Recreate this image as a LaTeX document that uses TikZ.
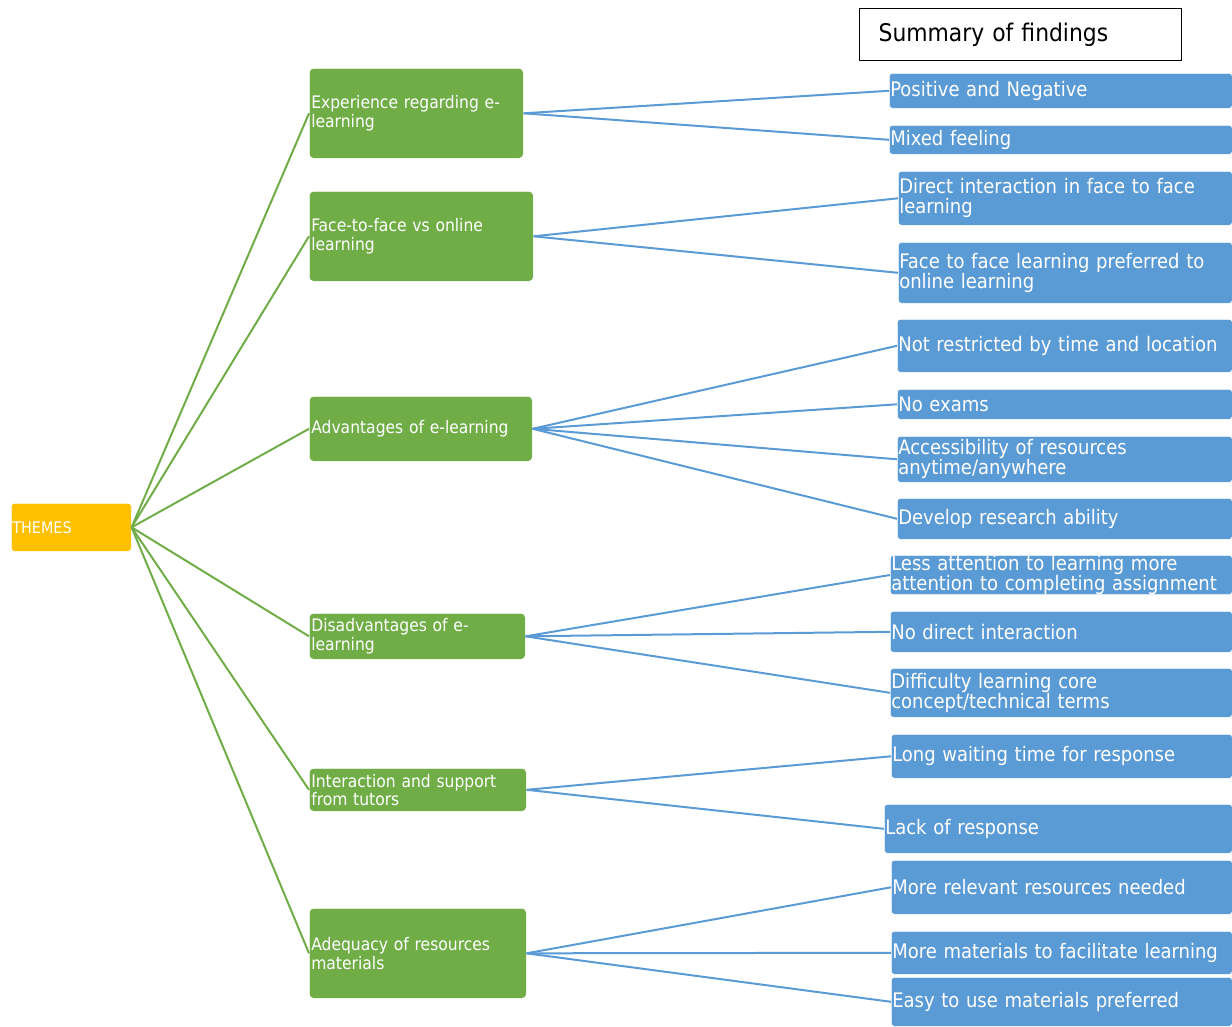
\documentclass[tikz,border=0pt]{standalone}
\usepackage{fontspec}
\setmainfont{DejaVu Sans Condensed}
\usetikzlibrary{positioning}
\definecolor{themeyellow}{HTML}{FFC000}
\definecolor{topicgreen}{HTML}{70AD47}
\definecolor{findblue}{HTML}{5B9BD5}

\tikzset{
  theme/.style={fill=themeyellow, draw=white, line width=0.6pt, rounded corners=3pt, text=white,
    anchor=north west, align=left, inner xsep=1pt, inner ysep=0pt,
    font=\fontsize{16}{18}\selectfont},
  topic/.style={fill=topicgreen, draw=white, line width=0.6pt, rounded corners=4pt, text=white,
    anchor=north west, align=left, inner xsep=2pt, inner ysep=0pt,
    font=\fontsize{17.3}{18.5}\selectfont},
  finding/.style={fill=findblue, draw=white, line width=0.6pt, rounded corners=3pt, text=white,
    anchor=north west, align=left, inner xsep=1pt, inner ysep=0pt,
    font=\fontsize{20}{20}\selectfont},
  themeline/.style={draw=topicgreen, line width=2pt},
  findline/.style={draw=findblue, line width=2pt}
}

\begin{document}
\begin{tikzpicture}[x=1pt, y=-1pt]
  \useasboundingbox (0,0) rectangle (1232,1026);

  % title box
  \node[draw=black, line width=1.3pt, anchor=north west, minimum width=322pt, minimum height=52pt,
    text width=284pt, inner xsep=19pt, align=left, font=\fontsize{24.3}{28}\selectfont] (summary) at (859,8) {Summary of findings};

  % root
  \node[theme, text width=118pt, minimum height=48pt] (themes) at (11,503) {THEMES};

  % themes
  \node[topic, text width=210pt, minimum height=90pt] (exp) at (309,68) {Experience regarding e-\\learning};
  \node[topic, text width=220pt, minimum height=90pt] (ftf) at (309,191) {Face-to-face vs online\\learning};
  \node[topic, text width=219pt, minimum height=65pt] (adv) at (309,396) {Advantages of e-learning};
  \node[topic, text width=212pt, minimum height=46pt] (dis) at (309,613) {Disadvantages of e-\\learning};
  \node[topic, text width=213pt, minimum height=43pt] (inter) at (309,768) {Interaction and support\\from tutors};
  \node[topic, text width=213pt, minimum height=90pt] (adeq) at (309,908) {Adequacy of resources\\materials};

  % findings
  \node[finding, text width=341pt, minimum height=35pt] (pos) at (889,73) {Positive and Negative};
  \node[finding, text width=341pt, minimum height=29pt] (mix) at (889,125) {Mixed feeling};
  \node[finding, text width=332pt, minimum height=54pt] (direct) at (898,171) {Direct interaction in face to face\\learning};
  \node[finding, text width=332pt, minimum height=61pt] (pref) at (898,242) {Face to face learning preferred to\\online learning};
  \node[finding, text width=333pt, minimum height=53pt] (notres) at (897,319) {Not restricted by time and location};
  \node[finding, text width=333pt, minimum height=30pt] (noexam) at (897,389) {No exams};
  \node[finding, text width=333pt, minimum height=46pt] (access) at (897,436) {Accessibility of resources\\anytime/anywhere};
  \node[finding, text width=333pt, minimum height=41pt] (research) at (897,498) {Develop research ability};
  \node[finding, text width=340pt, minimum height=38pt] (less) at (890,555) {Less attention to learning more\\attention to completing assignment};
  \node[finding, text width=340pt, minimum height=41pt] (nodirect) at (890,611) {No direct interaction};
  \node[finding, text width=340pt, minimum height=49pt] (diffic) at (890,668) {Difficulty learning core\\concept/technical terms};
  \node[finding, text width=339pt, minimum height=44pt] (waiting) at (891,734) {Long waiting time for response};
  \node[finding, text width=346pt, minimum height=49pt] (lack) at (884,804) {Lack of response};
  \node[finding, text width=339pt, minimum height=54pt] (relevant) at (891,860) {More relevant resources needed};
  \node[finding, text width=339pt, minimum height=43pt] (materials) at (891,931) {More materials to facilitate learning};
  \node[finding, text width=339pt, minimum height=49pt] (easy) at (891,977) {Easy to use materials preferred};

  % connectors
  \foreach \t in {exp,ftf,adv,dis,inter,adeq}
    \draw[themeline] (themes.east) -- (\t.west);
  \foreach \a/\b in {exp/pos,exp/mix,ftf/direct,ftf/pref,adv/notres,adv/noexam,adv/access,adv/research,
                     dis/less,dis/nodirect,dis/diffic,inter/waiting,inter/lack,adeq/relevant,adeq/materials,adeq/easy}
    \draw[findline] (\a.east) -- (\b.west);
\end{tikzpicture}
\end{document}
